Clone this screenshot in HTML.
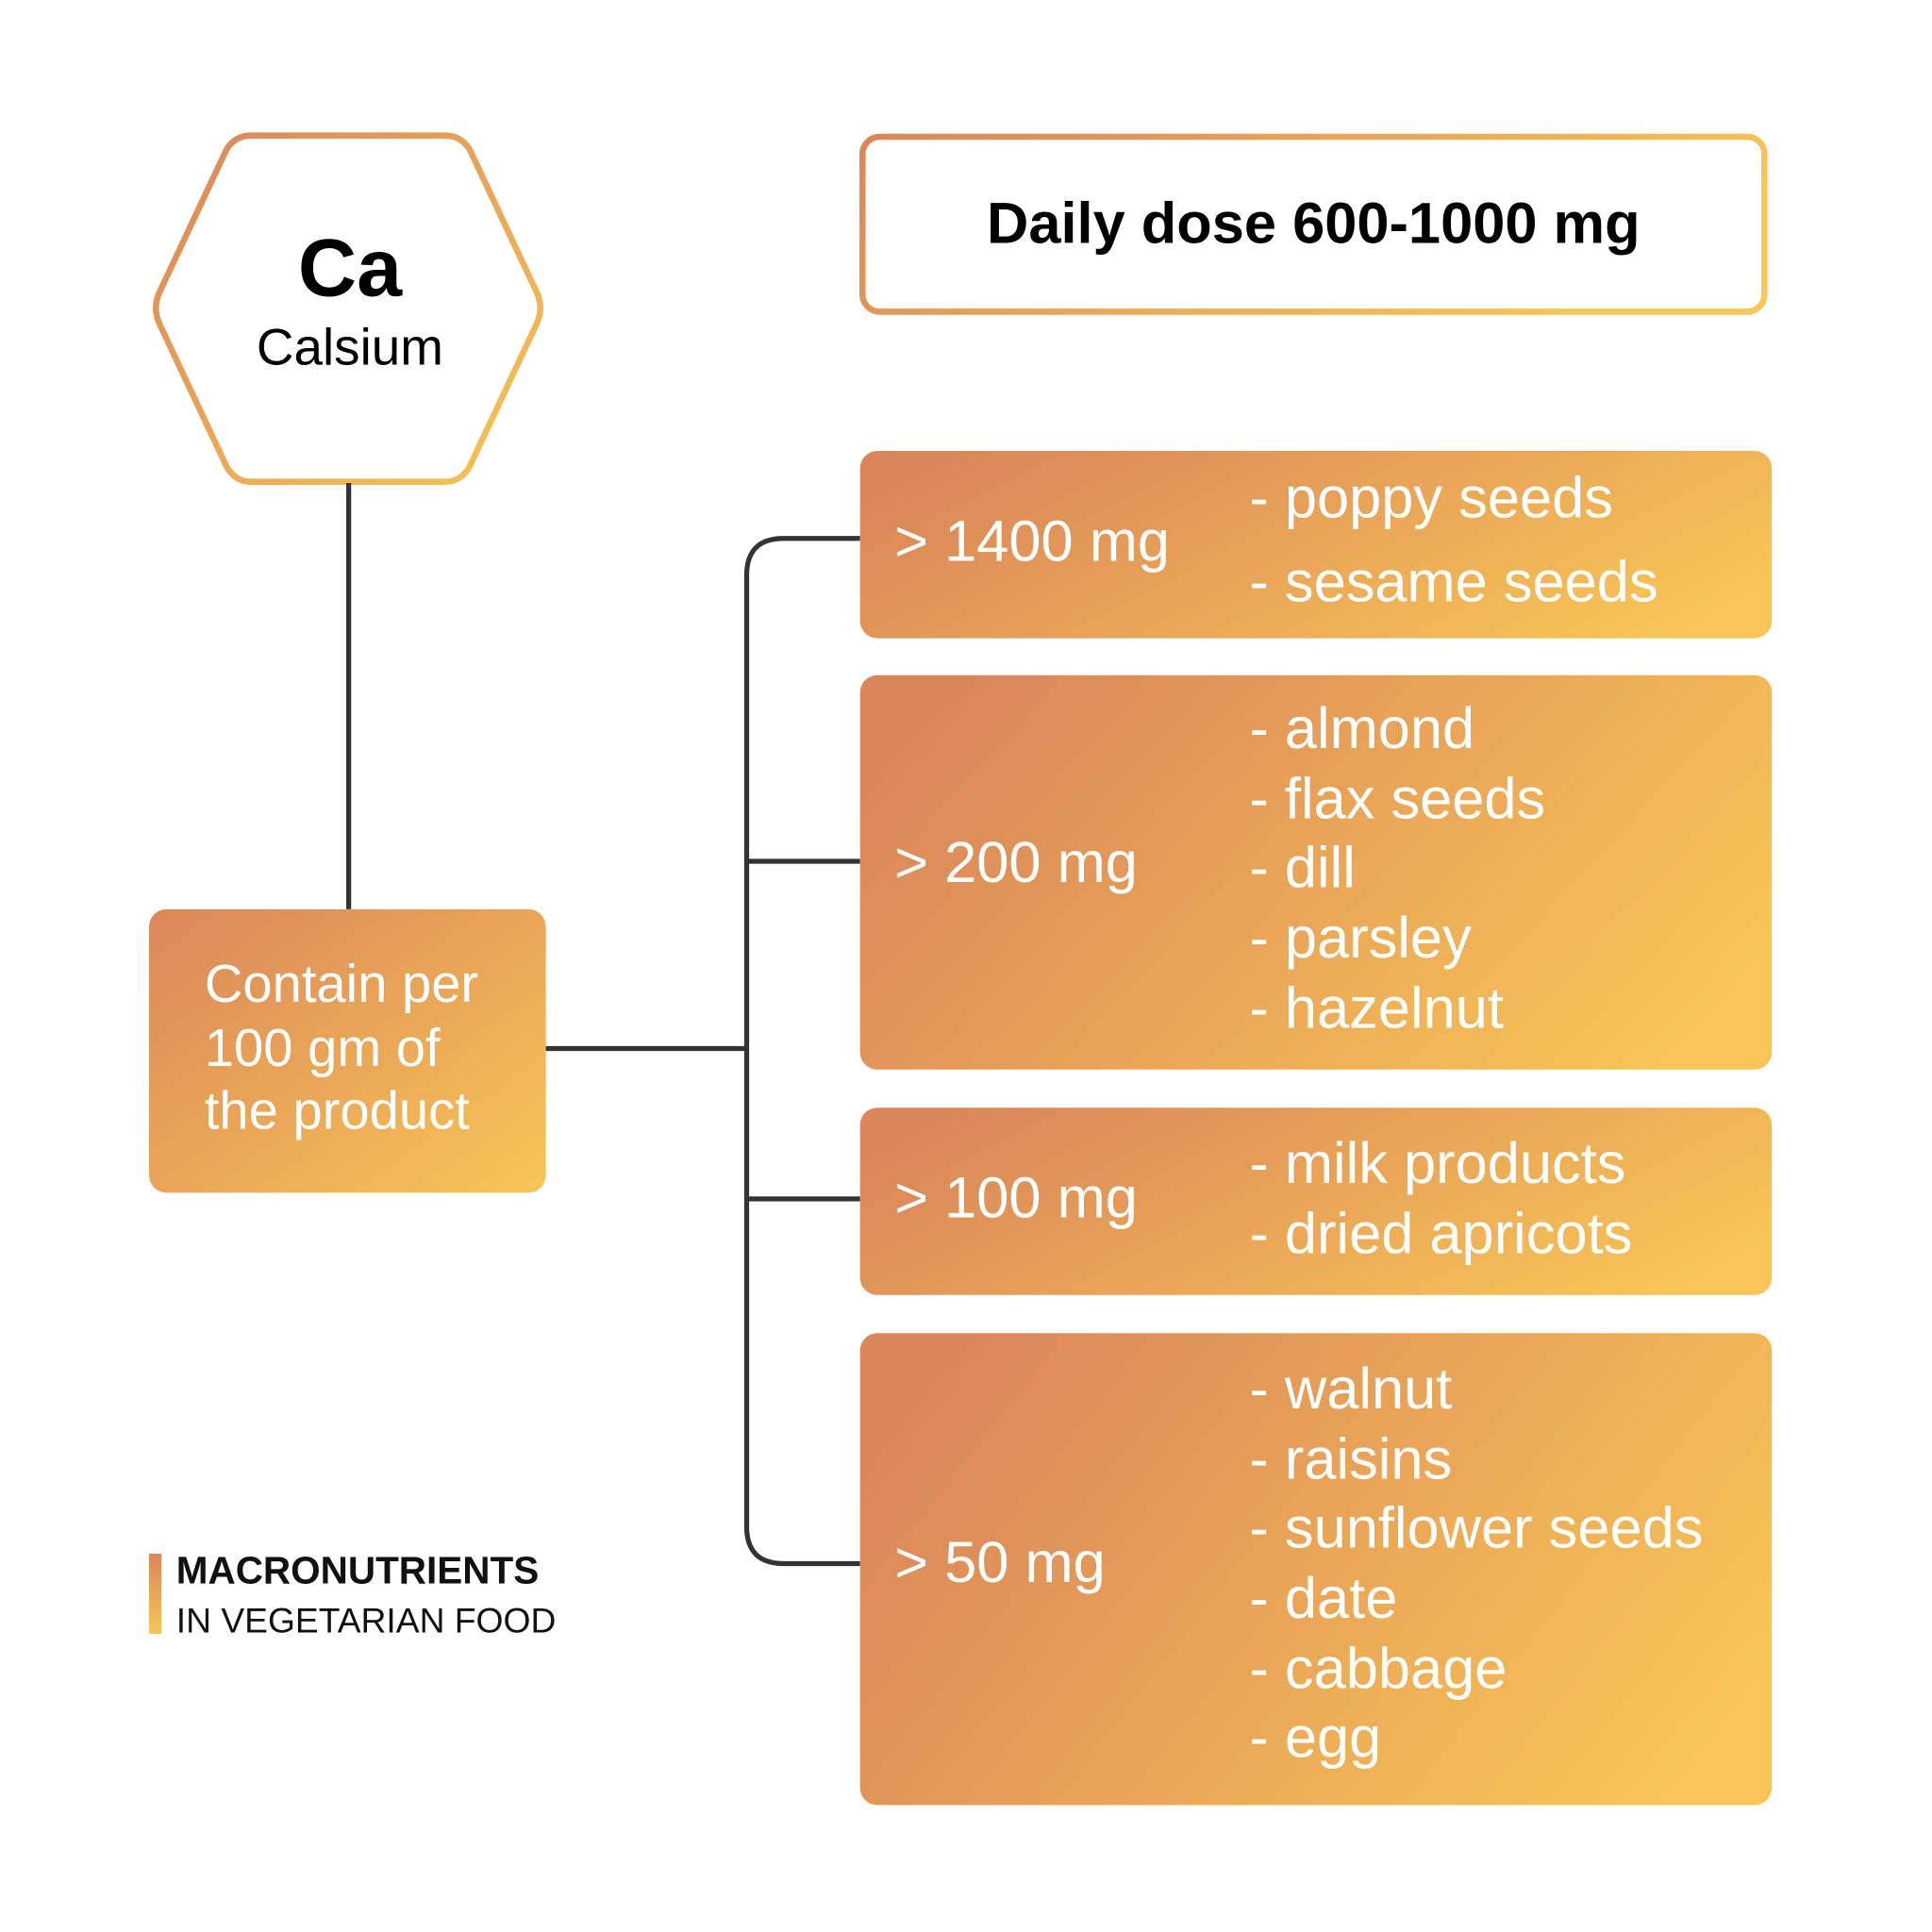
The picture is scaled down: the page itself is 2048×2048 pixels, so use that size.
<!DOCTYPE html>
<html><head><meta charset="utf-8"><style>html,body{margin:0;padding:0;background:#fff}svg{display:block}</style></head>
<body>
<svg width="2048" height="2048" viewBox="0 0 1568 1568" xmlns="http://www.w3.org/2000/svg" font-family="'Liberation Sans', sans-serif">
<defs>
<linearGradient id="g" x1="0" y1="0" x2="1" y2="1"><stop offset="0" stop-color="#da865a"/><stop offset="1" stop-color="#f8c556"/></linearGradient>
<linearGradient id="gb" x1="0" y1="0.3" x2="1" y2="0.7"><stop offset="0" stop-color="#da865a"/><stop offset="1" stop-color="#f8c556"/></linearGradient>
<linearGradient id="gh" x1="0" y1="0" x2="1" y2="0.3"><stop offset="0" stop-color="#da865a"/><stop offset="1" stop-color="#f8c556"/></linearGradient>
<linearGradient id="gv" x1="0" y1="0" x2="0" y2="1"><stop offset="0" stop-color="#da865a"/><stop offset="1" stop-color="#f8c556"/></linearGradient>
</defs>
<!-- hexagon -->
<path d="M204,110 L361,110 Q374,110 381,121 L435,236 Q442,250 435,264 L381,379 Q374,391 361,391 L204,391 Q191,391 184,379 L130,264 Q123,250 130,236 L184,121 Q191,110 204,110 Z" fill="#fff" stroke="url(#g)" stroke-width="5"/>
<text x="284" y="240" font-size="66" font-weight="bold" text-anchor="middle" fill="#000">Ca</text>
<text x="284" y="296" font-size="42" text-anchor="middle" fill="#000">Calsium</text>
<!-- connectors -->
<g stroke="#333" stroke-width="4" fill="none">
<line x1="283" y1="392" x2="283" y2="738"/>
<line x1="443" y1="851" x2="606" y2="851"/>
<path d="M698,437 L636,437 Q606,437 606,467 L606,1239 Q606,1269 636,1269 L698,1269"/>
<line x1="606" y1="699" x2="698" y2="699"/>
<line x1="606" y1="973" x2="698" y2="973"/>
</g>
<!-- contain box -->
<rect x="121" y="738" width="322" height="230" rx="14" fill="url(#g)"/>
<g fill="#fff" font-size="43">
<text x="166" y="813">Contain per</text>
<text x="166" y="865">100 gm of</text>
<text x="166" y="916">the product</text>
</g>
<!-- daily -->
<rect x="700" y="111" width="732" height="142" rx="14" fill="#fff" stroke="url(#gh)" stroke-width="5"/>
<text x="1066" y="197" font-size="47" font-weight="bold" text-anchor="middle" fill="#000">Daily dose 600-1000 mg</text>
<!-- boxes -->
<rect x="698" y="366" width="740" height="152" rx="14" fill="url(#gb)"/>
<rect x="698" y="548" width="740" height="320" rx="14" fill="url(#gb)"/>
<rect x="698" y="899" width="740" height="152" rx="14" fill="url(#gb)"/>
<rect x="698" y="1082" width="740" height="383" rx="14" fill="url(#gb)"/>
<g fill="#fff" font-size="47">
<text x="726" y="455">&gt; 1400 mg</text>
<text x="1014" y="420">- poppy seeds</text>
<text x="1014" y="488">- sesame seeds</text>
<text x="726" y="716">&gt; 200 mg</text>
<text x="1014" y="607">- almond</text>
<text x="1014" y="664">- flax seeds</text>
<text x="1014" y="720">- dill</text>
<text x="1014" y="777">- parsley</text>
<text x="1014" y="834">- hazelnut</text>
<text x="726" y="988">&gt; 100 mg</text>
<text x="1014" y="960">- milk products</text>
<text x="1014" y="1017">- dried apricots</text>
<text x="726" y="1284">&gt; 50 mg</text>
<text x="1014" y="1143">- walnut</text>
<text x="1014" y="1200">- raisins</text>
<text x="1014" y="1256">- sunflower seeds</text>
<text x="1014" y="1313">- date</text>
<text x="1014" y="1370">- cabbage</text>
<text x="1014" y="1426">- egg</text>
</g>
<!-- legend -->
<rect x="121" y="1261" width="10" height="65" fill="url(#gv)"/>
<text x="143" y="1285" font-size="31" font-weight="bold" fill="#111">MACRONUTRIENTS</text>
<text x="143" y="1325" font-size="28.5" fill="#111">IN VEGETARIAN FOOD</text>
</svg>
</body></html>
